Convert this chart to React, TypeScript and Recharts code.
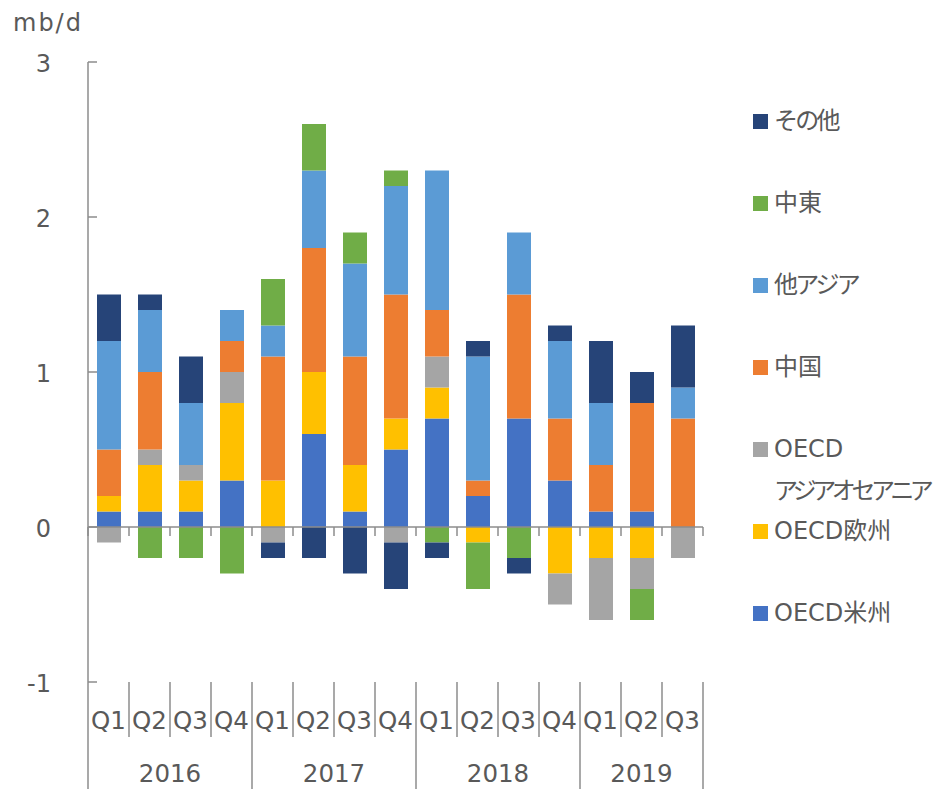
import React from 'react';
import { BarChart, Bar, XAxis, YAxis, ReferenceLine, Legend } from 'recharts';

// ---- data ----
const quarters = ['Q1', 'Q2', 'Q3', 'Q4', 'Q1', 'Q2', 'Q3', 'Q4', 'Q1', 'Q2', 'Q3', 'Q4', 'Q1', 'Q2', 'Q3'];
const years = ['2016', '2016', '2016', '2016', '2017', '2017', '2017', '2017', '2018', '2018', '2018', '2018', '2019', '2019', '2019'];
const yTicks = [-1, 0, 1, 2, 3];
const unitLabel = 'mb/d';

const oecdAmericas = [0.1, 0.1, 0.1, 0.3, 0, 0.6, 0.1, 0.5, 0.7, 0.2, 0.7, 0.3, 0.1, 0.1, 0];
const oecdEurope = [0.1, 0.3, 0.2, 0.5, 0.3, 0.4, 0.3, 0.2, 0.2, -0.1, 0, -0.3, -0.2, -0.2, 0];
const oecdAsiaOceania = [-0.1, 0.1, 0.1, 0.2, -0.1, 0, 0, -0.1, 0.2, 0, 0, -0.2, -0.4, -0.2, -0.2];
const china = [0.3, 0.5, 0, 0.2, 0.8, 0.8, 0.7, 0.8, 0.3, 0.1, 0.8, 0.4, 0.3, 0.7, 0.7];
const otherAsia = [0.7, 0.4, 0.4, 0.2, 0.2, 0.5, 0.6, 0.7, 0.9, 0.8, 0.4, 0.5, 0.4, 0, 0.2];
const middleEast = [0, -0.2, -0.2, -0.3, 0.3, 0.3, 0.2, 0.1, -0.1, -0.3, -0.2, 0, 0, -0.2, 0];
const others = [0.3, 0.1, 0.3, 0, -0.1, -0.2, -0.3, -0.3, -0.1, 0.1, -0.1, 0.1, 0.4, 0.2, 0.4];

const series = [
  { key: 'oecdAmericas', label: ['OECD米州'], color: '#4472C4', values: oecdAmericas },
  { key: 'oecdEurope', label: ['OECD欧州'], color: '#FFC000', values: oecdEurope },
  { key: 'oecdAsiaOceania', label: ['OECD', 'アジアオセアニア'], color: '#A5A5A5', values: oecdAsiaOceania },
  { key: 'china', label: ['中国'], color: '#ED7D31', values: china },
  { key: 'otherAsia', label: ['他アジア'], color: '#5B9BD5', values: otherAsia },
  { key: 'middleEast', label: ['中東'], color: '#70AD47', values: middleEast },
  { key: 'others', label: ['その他'], color: '#264478', values: others },
];

const data = quarters.map((q, i) => {
  const row: Record<string, any> = { q, year: years[i] };
  series.forEach((s) => {
    row[s.key] = s.values[i];
  });
  return row;
});

// ---- layout / style ----
const W = 935;
const H = 789;
const PLOT_LEFT = 88;
const PLOT_RIGHT = 703;
const PLOT_TOP = 62;
const PLOT_BOTTOM = 682;
const BAND = (PLOT_RIGHT - PLOT_LEFT) / quarters.length;
const FONT = '"DejaVu Sans", "Noto Sans CJK JP", sans-serif';
const TEXT = '#595959';
const AXIS = '#8C8C8C';

const YTick = (props: any) => {
  const { x, y, payload } = props;
  return (
    <g>
      <line x1={x} x2={x + 9} y1={y} y2={y} stroke={AXIS} strokeWidth={1.5} />
      <text x={x - 37} y={y + 10} textAnchor="end" fontSize={24} fontFamily={FONT} fill={TEXT}>
        {payload.value}
      </text>
    </g>
  );
};

const XTick = (props: any) => {
  const { x, y, index } = props;
  const half = BAND / 2;
  const yr = years[index];
  const isFirst = index === 0 || years[index - 1] !== yr;
  const isLast = index === quarters.length - 1;
  const groupCount = years.filter((v) => v === yr).length;
  return (
    <g>
      <line x1={x - half} x2={x - half} y1={y} y2={isFirst ? H : y + 55} stroke={AXIS} strokeWidth={1.5} />
      {isLast && <line x1={x + half} x2={x + half} y1={y} y2={H} stroke={AXIS} strokeWidth={1.5} />}
      <text x={x} y={y + 47} textAnchor="middle" fontSize={24.5} fontFamily={FONT} fill={TEXT}>
        {quarters[index]}
      </text>
      {isFirst && (
        <text x={x - half + (groupCount * BAND) / 2} y={y + 100} textAnchor="middle" fontSize={24.5} fontFamily={FONT} fill={TEXT}>
          {yr}
        </text>
      )}
    </g>
  );
};

const ZeroAxis = (props: any) => {
  const { x1, x2, y1 } = props;
  const n = quarters.length;
  const step = (x2 - x1) / n;
  return (
    <g>
      <line x1={x1} x2={x2} y1={y1} y2={y1} stroke={AXIS} strokeWidth={1.5} />
      {Array.from({ length: n + 1 }, (_, i) => (
        <line key={i} x1={x1 + i * step} x2={x1 + i * step} y1={y1} y2={y1 + 9} stroke={AXIS} strokeWidth={1.5} />
      ))}
    </g>
  );
};

const LEGEND_TOP = 105;
const LEGEND_STEP = 82;
const isKana = (s: string) => /[\u3040-\u30FF]/.test(s);

const LegendContent = () => {
  const items = [...series].reverse();
  return (
    <div style={{ position: 'relative', width: 182, height: 540, fontFamily: FONT, color: TEXT, fontSize: 24 }}>
      {items.map((s, i) => {
        const cy = 16 + i * LEGEND_STEP;
        return (
          <div key={s.key}>
            <div style={{ position: 'absolute', left: 0, top: cy - 7.5, width: 15, height: 15, background: s.color }} />
            {s.label.map((line, j) => (
              <div
                key={j}
                style={{
                  position: 'absolute',
                  left: 21,
                  top: cy - 15 + j * 42,
                  lineHeight: '30px',
                  whiteSpace: 'nowrap',
                  letterSpacing: isKana(line) ? (line.length > 6 ? -4.4 : -2.8) : 0,
                }}
              >
                {line}
              </div>
            ))}
          </div>
        );
      })}
    </div>
  );
};

export default function App() {
  return (
    <div style={{ position: 'absolute', left: 0, top: 0, width: W, height: H, background: '#fff' }}>
      <BarChart
        width={W}
        height={H}
        data={data}
        stackOffset="sign"
        barSize={24}
        margin={{ top: PLOT_TOP, right: W - PLOT_RIGHT, bottom: 0, left: 0 }}
      >
        <XAxis
          dataKey="q"
          height={H - PLOT_BOTTOM}
          axisLine={false}
          tickLine={false}
          tickSize={0}
          tickMargin={0}
          interval={0}
          tick={<XTick />}
        />
        <YAxis
          width={PLOT_LEFT}
          domain={[-1, 3]}
          ticks={yTicks}
          interval={0}
          axisLine={{ stroke: AXIS, strokeWidth: 1.5 }}
          tickLine={false}
          tickSize={0}
          tickMargin={0}
          tick={<YTick />}
          label={{
            content: () => (
              <text x={13} y={31} fontSize={24} letterSpacing={2} fontFamily={FONT} fill={TEXT}>
                {unitLabel}
              </text>
            ),
          }}
        />
        {series.map((s) => (
          <Bar key={s.key} dataKey={s.key} name={s.label.join('')} stackId="a" fill={s.color} isAnimationActive={false} />
        ))}
        <ReferenceLine y={0} shape={<ZeroAxis />} />
        <Legend
          layout="vertical"
          align="center"
          verticalAlign="middle"
          content={<LegendContent />}
          wrapperStyle={{ left: 753, top: LEGEND_TOP, width: 182, height: 540 }}
        />
      </BarChart>
    </div>
  );
}
